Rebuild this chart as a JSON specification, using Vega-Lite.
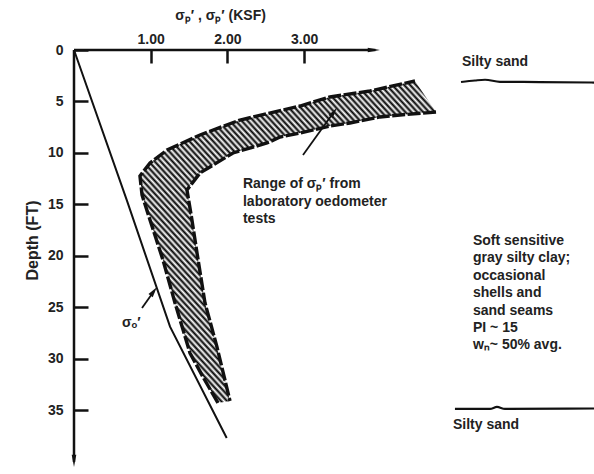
{
  "$schema": "https://vega.github.io/schema/vega-lite/v6.json",
  "width": 520,
  "height": 424,
  "autosize": {"type": "none"},
  "padding": {"left": 74, "top": 50, "right": 0, "bottom": 0},
  "background": "white",
  "config": {"view": {"stroke": null}, "font": "Liberation Sans"},
  "datasets": {
    "band": [
      {"i": 0, "edge": "outer", "x": 1.877, "d": 34.27},
      {"i": 1, "edge": "outer", "x": 1.682, "d": 31.75},
      {"i": 2, "edge": "outer", "x": 1.512, "d": 29.42},
      {"i": 3, "edge": "outer", "x": 1.317, "d": 24.56},
      {"i": 4, "edge": "outer", "x": 1.160, "d": 20.39},
      {"i": 5, "edge": "outer", "x": 0.991, "d": 16.50},
      {"i": 6, "edge": "outer", "x": 0.887, "d": 14.08},
      {"i": 7, "edge": "outer", "x": 0.860, "d": 12.23},
      {"i": 8, "edge": "outer", "x": 0.991, "d": 10.97},
      {"i": 9, "edge": "outer", "x": 1.213, "d": 9.71},
      {"i": 10, "edge": "outer", "x": 1.643, "d": 8.25},
      {"i": 11, "edge": "outer", "x": 2.164, "d": 6.80},
      {"i": 12, "edge": "outer", "x": 2.947, "d": 5.44},
      {"i": 13, "edge": "outer", "x": 3.338, "d": 4.56},
      {"i": 14, "edge": "outer", "x": 3.859, "d": 3.98},
      {"i": 15, "edge": "outer", "x": 4.446, "d": 3.01},
      {"i": 16, "edge": "inner", "x": 4.720, "d": 6.02},
      {"i": 17, "edge": "inner", "x": 4.250, "d": 6.31},
      {"i": 18, "edge": "inner", "x": 3.990, "d": 6.50},
      {"i": 19, "edge": "inner", "x": 3.598, "d": 7.09},
      {"i": 20, "edge": "inner", "x": 3.338, "d": 7.38},
      {"i": 21, "edge": "inner", "x": 2.947, "d": 8.06},
      {"i": 22, "edge": "inner", "x": 2.686, "d": 8.45},
      {"i": 23, "edge": "inner", "x": 2.516, "d": 9.03},
      {"i": 24, "edge": "inner", "x": 2.073, "d": 10.0},
      {"i": 25, "edge": "inner", "x": 1.643, "d": 11.94},
      {"i": 26, "edge": "inner", "x": 1.473, "d": 13.59},
      {"i": 27, "edge": "inner", "x": 1.538, "d": 16.50},
      {"i": 28, "edge": "inner", "x": 1.604, "d": 19.71},
      {"i": 29, "edge": "inner", "x": 1.708, "d": 24.56},
      {"i": 30, "edge": "inner", "x": 1.864, "d": 28.83},
      {"i": 31, "edge": "inner", "x": 2.034, "d": 34.08}
    ],
    "sigma0": [
      {"i": 0, "x": 0, "d": 0},
      {"i": 1, "x": 0.687, "d": 14.56},
      {"i": 2, "x": 1.252, "d": 26.86},
      {"i": 3, "x": 1.991, "d": 37.67}
    ],
    "axes": [
      {"ax": "x", "i": 0, "x": 0, "d": 0},
      {"ax": "x", "i": 1, "x": 3.93, "d": 0},
      {"ax": "y", "i": 0, "x": 0, "d": 0},
      {"ax": "y", "i": 1, "x": 0, "d": 40.0}
    ],
    "heads": [
      {"dir": "right", "x": 3.91, "d": 0},
      {"dir": "down", "x": 0, "d": 39.9}
    ],
    "pointers": [
      {"id": "range", "i": 0, "x": 2.986, "d": 10.19},
      {"id": "range", "i": 1, "x": 3.386, "d": 6.04},
      {"id": "s0", "i": 0, "x": 0.887, "d": 25.05},
      {"id": "s0", "i": 1, "x": 1.039, "d": 23.44}
    ],
    "pointerHeads": [
      {"id": "range", "x": 3.386, "d": 6.04},
      {"id": "s0", "x": 1.039, "d": 23.44}
    ],
    "strata": [
      {"id": "top", "i": 0, "x": 5.046, "d": 3.11},
      {"id": "top", "i": 1, "x": 5.228, "d": 2.96},
      {"id": "top", "i": 2, "x": 5.359, "d": 2.89},
      {"id": "top", "i": 3, "x": 5.554, "d": 3.09},
      {"id": "top", "i": 4, "x": 6.076, "d": 3.11},
      {"id": "top", "i": 5, "x": 6.780, "d": 3.16},
      {"id": "bottom", "i": 0, "x": 4.967, "d": 34.85},
      {"id": "bottom", "i": 1, "x": 5.424, "d": 34.85},
      {"id": "bottom", "i": 2, "x": 5.515, "d": 34.66},
      {"id": "bottom", "i": 3, "x": 5.619, "d": 34.85},
      {"id": "bottom", "i": 4, "x": 6.780, "d": 34.81}
    ],
    "notes": [
      {"x": 2.203, "d": 13.03, "text": "Range of σₚ′ from\nlaboratory oedometer\ntests"},
      {"x": 0.626, "d": 26.5, "text": "σₒ′"},
      {"x": 5.059, "d": 1.17, "text": "Silty sand"},
      {"x": 5.202, "d": 18.54, "text": "Soft sensitive\ngray silty clay;\noccasional\nshells and\nsand seams\nPI ~ 15\nwₙ~ 50% avg."},
      {"x": 4.941, "d": 36.41, "text": "Silty sand"}
    ]
  },
  "encoding": {
    "x": {
      "field": "x",
      "type": "quantitative",
      "scale": {"domain": [0, 6.78], "nice": false, "zero": false},
      "axis": {
        "orient": "top",
        "values": [1, 2, 3],
        "format": ".2f",
        "domain": false,
        "grid": false,
        "tickSize": -13,
        "tickWidth": 2.5,
        "tickColor": "#111",
        "labelFontSize": 14,
        "labelFontWeight": "bold",
        "labelColor": "#222",
        "labelPadding": 17,
        "title": "σₚ′ , σₚ′  (KSF)",
        "titleFontSize": 14,
        "titleFontWeight": "bold",
        "titleColor": "#222",
        "titleX": 146,
        "titleY": -35,
        "titleAlign": "center",
        "titleBaseline": "middle",
        "titleAngle": 0
      }
    },
    "y": {
      "field": "d",
      "type": "quantitative",
      "scale": {"domain": [0, 41.17], "nice": false, "zero": false, "reverse": true},
      "axis": {
        "values": [0, 5, 10, 15, 20, 25, 30, 35],
        "domain": false,
        "grid": false,
        "tickSize": -14,
        "tickWidth": 2.5,
        "tickColor": "#111",
        "labelFontSize": 14,
        "labelFontWeight": "bold",
        "labelColor": "#222",
        "labelPadding": 25,
        "title": "Depth (FT)",
        "titleFontSize": 16,
        "titleFontWeight": "bold",
        "titleColor": "#222",
        "titleX": -42,
        "titleY": 190,
        "titleAlign": "center",
        "titleBaseline": "middle",
        "titleAngle": -90
      }
    }
  },
  "layer": [
    {
      "data": {"name": "band"},
      "mark": {
        "type": "line",
        "strokeWidth": 0,
        "fill": {
          "gradient": "linear",
          "x1": 0, "y1": 1, "x2": 1, "y2": 0,
          "stops": [
            {"offset": 0, "color": "#000"}, {"offset": 0.005, "color": "#fff"},
            {"offset": 0.01, "color": "#000"}, {"offset": 0.015, "color": "#fff"},
            {"offset": 0.02, "color": "#000"}, {"offset": 0.025, "color": "#fff"},
            {"offset": 0.03, "color": "#000"}, {"offset": 0.035, "color": "#fff"},
            {"offset": 0.04, "color": "#000"}, {"offset": 0.045, "color": "#fff"},
            {"offset": 0.05, "color": "#000"}, {"offset": 0.055, "color": "#fff"},
            {"offset": 0.06, "color": "#000"}, {"offset": 0.065, "color": "#fff"},
            {"offset": 0.07, "color": "#000"}, {"offset": 0.075, "color": "#fff"},
            {"offset": 0.08, "color": "#000"}, {"offset": 0.085, "color": "#fff"},
            {"offset": 0.09, "color": "#000"}, {"offset": 0.095, "color": "#fff"},
            {"offset": 0.1, "color": "#000"}, {"offset": 0.105, "color": "#fff"},
            {"offset": 0.11, "color": "#000"}, {"offset": 0.115, "color": "#fff"},
            {"offset": 0.12, "color": "#000"}, {"offset": 0.125, "color": "#fff"},
            {"offset": 0.13, "color": "#000"}, {"offset": 0.135, "color": "#fff"},
            {"offset": 0.14, "color": "#000"}, {"offset": 0.145, "color": "#fff"},
            {"offset": 0.15, "color": "#000"}, {"offset": 0.155, "color": "#fff"},
            {"offset": 0.16, "color": "#000"}, {"offset": 0.165, "color": "#fff"},
            {"offset": 0.17, "color": "#000"}, {"offset": 0.175, "color": "#fff"},
            {"offset": 0.18, "color": "#000"}, {"offset": 0.185, "color": "#fff"},
            {"offset": 0.19, "color": "#000"}, {"offset": 0.195, "color": "#fff"},
            {"offset": 0.2, "color": "#000"}, {"offset": 0.205, "color": "#fff"},
            {"offset": 0.21, "color": "#000"}, {"offset": 0.215, "color": "#fff"},
            {"offset": 0.22, "color": "#000"}, {"offset": 0.225, "color": "#fff"},
            {"offset": 0.23, "color": "#000"}, {"offset": 0.235, "color": "#fff"},
            {"offset": 0.24, "color": "#000"}, {"offset": 0.245, "color": "#fff"},
            {"offset": 0.25, "color": "#000"}, {"offset": 0.255, "color": "#fff"},
            {"offset": 0.26, "color": "#000"}, {"offset": 0.265, "color": "#fff"},
            {"offset": 0.27, "color": "#000"}, {"offset": 0.275, "color": "#fff"},
            {"offset": 0.28, "color": "#000"}, {"offset": 0.285, "color": "#fff"},
            {"offset": 0.29, "color": "#000"}, {"offset": 0.295, "color": "#fff"},
            {"offset": 0.3, "color": "#000"}, {"offset": 0.305, "color": "#fff"},
            {"offset": 0.31, "color": "#000"}, {"offset": 0.315, "color": "#fff"},
            {"offset": 0.32, "color": "#000"}, {"offset": 0.325, "color": "#fff"},
            {"offset": 0.33, "color": "#000"}, {"offset": 0.335, "color": "#fff"},
            {"offset": 0.34, "color": "#000"}, {"offset": 0.345, "color": "#fff"},
            {"offset": 0.35, "color": "#000"}, {"offset": 0.355, "color": "#fff"},
            {"offset": 0.36, "color": "#000"}, {"offset": 0.365, "color": "#fff"},
            {"offset": 0.37, "color": "#000"}, {"offset": 0.375, "color": "#fff"},
            {"offset": 0.38, "color": "#000"}, {"offset": 0.385, "color": "#fff"},
            {"offset": 0.39, "color": "#000"}, {"offset": 0.395, "color": "#fff"},
            {"offset": 0.4, "color": "#000"}, {"offset": 0.405, "color": "#fff"},
            {"offset": 0.41, "color": "#000"}, {"offset": 0.415, "color": "#fff"},
            {"offset": 0.42, "color": "#000"}, {"offset": 0.425, "color": "#fff"},
            {"offset": 0.43, "color": "#000"}, {"offset": 0.435, "color": "#fff"},
            {"offset": 0.44, "color": "#000"}, {"offset": 0.445, "color": "#fff"},
            {"offset": 0.45, "color": "#000"}, {"offset": 0.455, "color": "#fff"},
            {"offset": 0.46, "color": "#000"}, {"offset": 0.465, "color": "#fff"},
            {"offset": 0.47, "color": "#000"}, {"offset": 0.475, "color": "#fff"},
            {"offset": 0.48, "color": "#000"}, {"offset": 0.485, "color": "#fff"},
            {"offset": 0.49, "color": "#000"}, {"offset": 0.495, "color": "#fff"},
            {"offset": 0.5, "color": "#000"}, {"offset": 0.505, "color": "#fff"},
            {"offset": 0.51, "color": "#000"}, {"offset": 0.515, "color": "#fff"},
            {"offset": 0.52, "color": "#000"}, {"offset": 0.525, "color": "#fff"},
            {"offset": 0.53, "color": "#000"}, {"offset": 0.535, "color": "#fff"},
            {"offset": 0.54, "color": "#000"}, {"offset": 0.545, "color": "#fff"},
            {"offset": 0.55, "color": "#000"}, {"offset": 0.555, "color": "#fff"},
            {"offset": 0.56, "color": "#000"}, {"offset": 0.565, "color": "#fff"},
            {"offset": 0.57, "color": "#000"}, {"offset": 0.575, "color": "#fff"},
            {"offset": 0.58, "color": "#000"}, {"offset": 0.585, "color": "#fff"},
            {"offset": 0.59, "color": "#000"}, {"offset": 0.595, "color": "#fff"},
            {"offset": 0.6, "color": "#000"}, {"offset": 0.605, "color": "#fff"},
            {"offset": 0.61, "color": "#000"}, {"offset": 0.615, "color": "#fff"},
            {"offset": 0.62, "color": "#000"}, {"offset": 0.625, "color": "#fff"},
            {"offset": 0.63, "color": "#000"}, {"offset": 0.635, "color": "#fff"},
            {"offset": 0.64, "color": "#000"}, {"offset": 0.645, "color": "#fff"},
            {"offset": 0.65, "color": "#000"}, {"offset": 0.655, "color": "#fff"},
            {"offset": 0.66, "color": "#000"}, {"offset": 0.665, "color": "#fff"},
            {"offset": 0.67, "color": "#000"}, {"offset": 0.675, "color": "#fff"},
            {"offset": 0.68, "color": "#000"}, {"offset": 0.685, "color": "#fff"},
            {"offset": 0.69, "color": "#000"}, {"offset": 0.695, "color": "#fff"},
            {"offset": 0.7, "color": "#000"}, {"offset": 0.705, "color": "#fff"},
            {"offset": 0.71, "color": "#000"}, {"offset": 0.715, "color": "#fff"},
            {"offset": 0.72, "color": "#000"}, {"offset": 0.725, "color": "#fff"},
            {"offset": 0.73, "color": "#000"}, {"offset": 0.735, "color": "#fff"},
            {"offset": 0.74, "color": "#000"}, {"offset": 0.745, "color": "#fff"},
            {"offset": 0.75, "color": "#000"}, {"offset": 0.755, "color": "#fff"},
            {"offset": 0.76, "color": "#000"}, {"offset": 0.765, "color": "#fff"},
            {"offset": 0.77, "color": "#000"}, {"offset": 0.775, "color": "#fff"},
            {"offset": 0.78, "color": "#000"}, {"offset": 0.785, "color": "#fff"},
            {"offset": 0.79, "color": "#000"}, {"offset": 0.795, "color": "#fff"},
            {"offset": 0.8, "color": "#000"}, {"offset": 0.805, "color": "#fff"},
            {"offset": 0.81, "color": "#000"}, {"offset": 0.815, "color": "#fff"},
            {"offset": 0.82, "color": "#000"}, {"offset": 0.825, "color": "#fff"},
            {"offset": 0.83, "color": "#000"}, {"offset": 0.835, "color": "#fff"},
            {"offset": 0.84, "color": "#000"}, {"offset": 0.845, "color": "#fff"},
            {"offset": 0.85, "color": "#000"}, {"offset": 0.855, "color": "#fff"},
            {"offset": 0.86, "color": "#000"}, {"offset": 0.865, "color": "#fff"},
            {"offset": 0.87, "color": "#000"}, {"offset": 0.875, "color": "#fff"},
            {"offset": 0.88, "color": "#000"}, {"offset": 0.885, "color": "#fff"},
            {"offset": 0.89, "color": "#000"}, {"offset": 0.895, "color": "#fff"},
            {"offset": 0.9, "color": "#000"}, {"offset": 0.905, "color": "#fff"},
            {"offset": 0.91, "color": "#000"}, {"offset": 0.915, "color": "#fff"},
            {"offset": 0.92, "color": "#000"}, {"offset": 0.925, "color": "#fff"},
            {"offset": 0.93, "color": "#000"}, {"offset": 0.935, "color": "#fff"},
            {"offset": 0.94, "color": "#000"}, {"offset": 0.945, "color": "#fff"},
            {"offset": 0.95, "color": "#000"}, {"offset": 0.955, "color": "#fff"},
            {"offset": 0.96, "color": "#000"}, {"offset": 0.965, "color": "#fff"},
            {"offset": 0.97, "color": "#000"}, {"offset": 0.975, "color": "#fff"},
            {"offset": 0.98, "color": "#000"}, {"offset": 0.985, "color": "#fff"},
            {"offset": 0.99, "color": "#000"}, {"offset": 0.995, "color": "#fff"},
            {"offset": 1, "color": "#000"}
          ]
        }
      },
      "encoding": {"order": {"field": "i", "type": "quantitative"}}
    },
    {
      "data": {"name": "band"},
      "mark": {"type": "line", "color": "#111", "strokeWidth": 3.4, "strokeDash": [13, 2.5]},
      "encoding": {"detail": {"field": "edge"}, "order": {"field": "i", "type": "quantitative"}}
    },
    {
      "data": {"name": "sigma0"},
      "mark": {"type": "line", "color": "#111", "strokeWidth": 2},
      "encoding": {"order": {"field": "i", "type": "quantitative"}}
    },
    {
      "data": {"name": "axes"},
      "mark": {"type": "line", "color": "#111", "strokeWidth": 2.5},
      "encoding": {"detail": {"field": "ax"}, "order": {"field": "i", "type": "quantitative"}}
    },
    {
      "data": {"name": "heads"},
      "transform": [{"filter": "datum.dir == 'right'"}],
      "mark": {"type": "point", "shape": "M-1,-0.38L1,0L-1,0.38Z", "filled": true, "color": "#111", "size": 150, "opacity": 1, "angle": 0}
    },
    {
      "data": {"name": "heads"},
      "transform": [{"filter": "datum.dir == 'down'"}],
      "mark": {"type": "point", "shape": "M-1,-0.38L1,0L-1,0.38Z", "filled": true, "color": "#111", "size": 150, "opacity": 1, "angle": 90}
    },
    {
      "data": {"name": "pointers"},
      "mark": {"type": "line", "color": "#111", "strokeWidth": 1.8},
      "encoding": {"detail": {"field": "id"}, "order": {"field": "i", "type": "quantitative"}}
    },
    {
      "data": {"name": "pointerHeads"},
      "mark": {"type": "point", "shape": "M-1,-0.5L1,0L-1,0.5Z", "filled": true, "color": "#111", "size": 110, "opacity": 1, "angle": 306}
    },
    {
      "data": {"name": "strata"},
      "mark": {"type": "line", "color": "#111", "strokeWidth": 2.2, "interpolate": "monotone"},
      "encoding": {"detail": {"field": "id"}, "order": {"field": "i", "type": "quantitative"}}
    },
    {
      "data": {"name": "notes"},
      "mark": {"type": "text", "align": "left", "baseline": "middle", "lineBreak": "\n", "lineHeight": 17.4, "fontSize": 14, "fontWeight": "bold", "color": "#222"},
      "encoding": {"text": {"field": "text"}}
    }
  ]
}
